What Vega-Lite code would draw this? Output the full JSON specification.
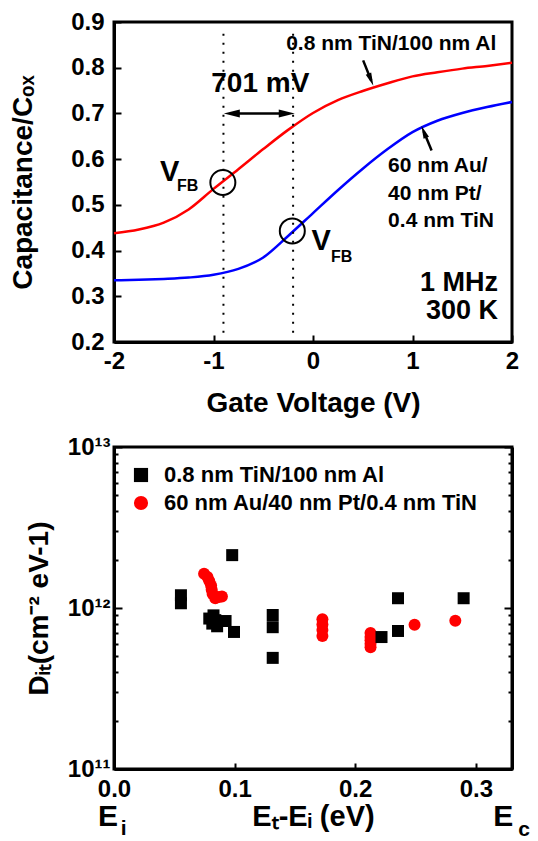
{
  "$schema": "https://vega.github.io/schema/vega-lite/v6.json",
  "padding": {"left": 8, "top": 8, "right": 4, "bottom": 2},
  "background": "white",
  "bounds": "flush",
  "spacing": 105,
  "resolve": {"scale": {"color": "independent", "shape": "independent"}, "legend": {"color": "independent", "shape": "independent"}},
  "datasets": {
    "cv": [
      {"V": -2, "C": 0.438, "s": "al"}, {"V": -1.75, "C": 0.446, "s": "al"}, {"V": -1.5, "C": 0.461, "s": "al"},
      {"V": -1.25, "C": 0.49, "s": "al"}, {"V": -1, "C": 0.535, "s": "al"}, {"V": -0.75, "C": 0.578, "s": "al"},
      {"V": -0.5, "C": 0.622, "s": "al"}, {"V": -0.25, "C": 0.664, "s": "al"}, {"V": 0, "C": 0.701, "s": "al"},
      {"V": 0.25, "C": 0.729, "s": "al"}, {"V": 0.5, "C": 0.749, "s": "al"}, {"V": 0.75, "C": 0.766, "s": "al"},
      {"V": 1, "C": 0.781, "s": "al"}, {"V": 1.25, "C": 0.79, "s": "al"}, {"V": 1.5, "C": 0.798, "s": "al"},
      {"V": 1.75, "C": 0.804, "s": "al"}, {"V": 2, "C": 0.811, "s": "al"},
      {"V": -2, "C": 0.335, "s": "tin"}, {"V": -1.75, "C": 0.336, "s": "tin"}, {"V": -1.5, "C": 0.338, "s": "tin"},
      {"V": -1.25, "C": 0.341, "s": "tin"}, {"V": -1, "C": 0.347, "s": "tin"}, {"V": -0.75, "C": 0.36, "s": "tin"},
      {"V": -0.5, "C": 0.385, "s": "tin"}, {"V": -0.25, "C": 0.432, "s": "tin"}, {"V": 0, "C": 0.482, "s": "tin"},
      {"V": 0.25, "C": 0.532, "s": "tin"}, {"V": 0.5, "C": 0.579, "s": "tin"}, {"V": 0.75, "C": 0.622, "s": "tin"},
      {"V": 1, "C": 0.659, "s": "tin"}, {"V": 1.25, "C": 0.684, "s": "tin"}, {"V": 1.5, "C": 0.701, "s": "tin"},
      {"V": 1.75, "C": 0.714, "s": "tin"}, {"V": 2, "C": 0.725, "s": "tin"}
    ],
    "dit": [
      {"E": 0.0747, "D": 1.63e12, "s": "60 nm Au/40 nm Pt/0.4 nm TiN"},
      {"E": 0.0775, "D": 1.56e12, "s": "60 nm Au/40 nm Pt/0.4 nm TiN"},
      {"E": 0.079, "D": 1.47e12, "s": "60 nm Au/40 nm Pt/0.4 nm TiN"},
      {"E": 0.0805, "D": 1.38e12, "s": "60 nm Au/40 nm Pt/0.4 nm TiN"},
      {"E": 0.081, "D": 1.3e12, "s": "60 nm Au/40 nm Pt/0.4 nm TiN"},
      {"E": 0.0818, "D": 1.22e12, "s": "60 nm Au/40 nm Pt/0.4 nm TiN"},
      {"E": 0.084, "D": 1.15e12, "s": "60 nm Au/40 nm Pt/0.4 nm TiN"},
      {"E": 0.087, "D": 1.17e12, "s": "60 nm Au/40 nm Pt/0.4 nm TiN"},
      {"E": 0.0895, "D": 1.18e12, "s": "60 nm Au/40 nm Pt/0.4 nm TiN"},
      {"E": 0.1728, "D": 8.5e11, "s": "60 nm Au/40 nm Pt/0.4 nm TiN"},
      {"E": 0.1728, "D": 7.9e11, "s": "60 nm Au/40 nm Pt/0.4 nm TiN"},
      {"E": 0.1728, "D": 7.3e11, "s": "60 nm Au/40 nm Pt/0.4 nm TiN"},
      {"E": 0.1728, "D": 6.7e11, "s": "60 nm Au/40 nm Pt/0.4 nm TiN"},
      {"E": 0.2127, "D": 7.0e11, "s": "60 nm Au/40 nm Pt/0.4 nm TiN"},
      {"E": 0.2127, "D": 6.6e11, "s": "60 nm Au/40 nm Pt/0.4 nm TiN"},
      {"E": 0.2127, "D": 6.3e11, "s": "60 nm Au/40 nm Pt/0.4 nm TiN"},
      {"E": 0.2127, "D": 6.0e11, "s": "60 nm Au/40 nm Pt/0.4 nm TiN"},
      {"E": 0.2127, "D": 5.7e11, "s": "60 nm Au/40 nm Pt/0.4 nm TiN"},
      {"E": 0.2492, "D": 7.87e11, "s": "60 nm Au/40 nm Pt/0.4 nm TiN"},
      {"E": 0.283, "D": 8.34e11, "s": "60 nm Au/40 nm Pt/0.4 nm TiN"},
      {"E": 0.0555, "D": 1.2e12, "s": "0.8 nm TiN/100 nm Al"},
      {"E": 0.0555, "D": 1.07e12, "s": "0.8 nm TiN/100 nm Al"},
      {"E": 0.098, "D": 2.13e12, "s": "0.8 nm TiN/100 nm Al"},
      {"E": 0.079, "D": 8.6e11, "s": "0.8 nm TiN/100 nm Al"},
      {"E": 0.0825, "D": 9.0e11, "s": "0.8 nm TiN/100 nm Al"},
      {"E": 0.0815, "D": 8.0e11, "s": "0.8 nm TiN/100 nm Al"},
      {"E": 0.0855, "D": 7.7e11, "s": "0.8 nm TiN/100 nm Al"},
      {"E": 0.084, "D": 8.4e11, "s": "0.8 nm TiN/100 nm Al"},
      {"E": 0.0925, "D": 8.3e11, "s": "0.8 nm TiN/100 nm Al"},
      {"E": 0.0995, "D": 7.1e11, "s": "0.8 nm TiN/100 nm Al"},
      {"E": 0.1316, "D": 9.05e11, "s": "0.8 nm TiN/100 nm Al"},
      {"E": 0.1316, "D": 7.6e11, "s": "0.8 nm TiN/100 nm Al"},
      {"E": 0.1316, "D": 4.9e11, "s": "0.8 nm TiN/100 nm Al"},
      {"E": 0.2218, "D": 6.6e11, "s": "0.8 nm TiN/100 nm Al"},
      {"E": 0.2355, "D": 1.15e12, "s": "0.8 nm TiN/100 nm Al"},
      {"E": 0.2355, "D": 7.2e11, "s": "0.8 nm TiN/100 nm Al"},
      {"E": 0.2899, "D": 1.15e12, "s": "0.8 nm TiN/100 nm Al"}
    ]
  },
  "vconcat": [
    {
      "width": 398,
      "height": 320,
      "layer": [
        {
          "data": {"name": "cv"},
          "mark": {"type": "line", "strokeWidth": 2.5, "interpolate": "monotone"},
          "encoding": {
            "x": {"field": "V", "type": "quantitative", "scale": {"domain": [-2, 2], "nice": false, "zero": false},
              "axis": {"title": "Gate Voltage (V)", "values": [-2, -1, 0, 1, 2], "labelExpr": "datum.value + ''", "tickSize": -7, "labelPadding": 14, "titlePadding": 16}},
            "y": {"field": "C", "type": "quantitative", "scale": {"domain": [0.2, 0.9], "nice": false, "zero": false},
              "axis": {"title": "Capacitance/Cₒₓ", "values": [0.2, 0.3, 0.4, 0.5, 0.6, 0.7, 0.8, 0.9], "format": ".1f", "tickSize": -7, "labelPadding": 17, "titlePadding": 33}},
            "color": {"field": "s", "type": "nominal", "scale": {"domain": ["al", "tin"], "range": ["#ff0000", "#0000ff"]}, "legend": null}
          }
        },
        {
          "data": {"values": [{"V": -0.9}, {"V": -0.2}]},
          "mark": {"type": "rule", "strokeDash": [2, 7], "strokeWidth": 2, "color": "black"},
          "encoding": {
            "x": {"field": "V", "type": "quantitative"},
            "y": {"datum": 0.22, "type": "quantitative"},
            "y2": {"datum": 0.88}
          }
        },
        {
          "data": {"values": [{"V": -0.83, "V2": -0.25, "C": 0.7}]},
          "mark": {"type": "rule", "strokeWidth": 2.5, "color": "black"},
          "encoding": {
            "x": {"field": "V", "type": "quantitative"},
            "x2": {"field": "V2"},
            "y": {"field": "C", "type": "quantitative"}
          }
        },
        {
          "data": {"values": [{"V": -0.816, "C": 0.7}]},
          "mark": {"type": "point", "shape": "M -1 0 L 1 -0.5 L 1 0.5 Z", "size": 256, "filled": true, "color": "black", "opacity": 1},
          "encoding": {
            "x": {"field": "V", "type": "quantitative"},
            "y": {"field": "C", "type": "quantitative"}
          }
        },
        {
          "data": {"values": [{"V": -0.264, "C": 0.7}]},
          "mark": {"type": "point", "shape": "M 1 0 L -1 -0.5 L -1 0.5 Z", "size": 256, "filled": true, "color": "black", "opacity": 1},
          "encoding": {
            "x": {"field": "V", "type": "quantitative"},
            "y": {"field": "C", "type": "quantitative"}
          }
        },
        {
          "data": {"values": [{"V": 0.504, "C": 0.816, "V2": 0.585, "C2": 0.772}, {"V": 1.192, "C": 0.619, "V2": 1.112, "C2": 0.661}]},
          "mark": {"type": "rule", "strokeWidth": 2.5, "color": "black"},
          "encoding": {
            "x": {"field": "V", "type": "quantitative"},
            "x2": {"field": "V2"},
            "y": {"field": "C", "type": "quantitative"},
            "y2": {"field": "C2"}
          }
        },
        {
          "data": {"values": [{"V": 0.582, "C": 0.774}]},
          "mark": {"type": "point", "shape": "M 0 1 L -0.45 -1 L 0.45 -1 Z", "size": 169, "angle": -22, "filled": true, "color": "black", "opacity": 1},
          "encoding": {
            "x": {"field": "V", "type": "quantitative"},
            "y": {"field": "C", "type": "quantitative"}
          }
        },
        {
          "data": {"values": [{"V": 1.114, "C": 0.66}]},
          "mark": {"type": "point", "shape": "M 0 -1 L -0.45 1 L 0.45 1 Z", "size": 169, "angle": -22, "filled": true, "color": "black", "opacity": 1},
          "encoding": {
            "x": {"field": "V", "type": "quantitative"},
            "y": {"field": "C", "type": "quantitative"}
          }
        },
        {
          "data": {"values": [{"V": -0.906, "C": 0.549}, {"V": -0.208, "C": 0.443}]},
          "mark": {"type": "point", "shape": "circle", "size": 625, "filled": false, "strokeWidth": 2, "color": "black", "opacity": 1},
          "encoding": {
            "x": {"field": "V", "type": "quantitative"},
            "y": {"field": "C", "type": "quantitative"}
          }
        },
        {
          "data": {"values": [{"V": -0.53, "C": 0.765, "t": "701 mV"}]},
          "mark": {"type": "text", "fontSize": 28, "align": "center", "baseline": "middle"},
          "encoding": {
            "x": {"field": "V", "type": "quantitative"},
            "y": {"field": "C", "type": "quantitative"},
            "text": {"field": "t"}
          }
        },
        {
          "data": {"values": [{"V": 0.786, "C": 0.852, "t": "0.8 nm TiN/100 nm Al"}]},
          "mark": {"type": "text", "fontSize": 21, "align": "center", "baseline": "middle"},
          "encoding": {
            "x": {"field": "V", "type": "quantitative"},
            "y": {"field": "C", "type": "quantitative"},
            "text": {"field": "t"}
          }
        },
        {
          "data": {"values": [{"V": 0.755, "C": 0.584, "t": "60 nm Au/"}, {"V": 0.755, "C": 0.524, "t": "40 nm Pt/"}, {"V": 0.755, "C": 0.465, "t": "0.4 nm TiN"}]},
          "mark": {"type": "text", "fontSize": 21, "align": "left", "baseline": "middle"},
          "encoding": {
            "x": {"field": "V", "type": "quantitative"},
            "y": {"field": "C", "type": "quantitative"},
            "text": {"field": "t"}
          }
        },
        {
          "data": {"values": [{"V": 1.86, "C": 0.33, "t": "1 MHz"}, {"V": 1.86, "C": 0.268, "t": "300 K"}]},
          "mark": {"type": "text", "fontSize": 27, "align": "right", "baseline": "middle"},
          "encoding": {
            "x": {"field": "V", "type": "quantitative"},
            "y": {"field": "C", "type": "quantitative"},
            "text": {"field": "t"}
          }
        },
        {
          "data": {"values": [{"V": -1.44, "C": 0.571, "t": "V"}, {"V": 0.081, "C": 0.421, "t": "V"}]},
          "mark": {"type": "text", "fontSize": 29, "align": "center", "baseline": "middle"},
          "encoding": {
            "x": {"field": "V", "type": "quantitative"},
            "y": {"field": "C", "type": "quantitative"},
            "text": {"field": "t"}
          }
        },
        {
          "data": {"values": [{"V": -1.26, "C": 0.542, "t": "FB"}, {"V": 0.287, "C": 0.385, "t": "FB"}]},
          "mark": {"type": "text", "fontSize": 16, "align": "center", "baseline": "middle"},
          "encoding": {
            "x": {"field": "V", "type": "quantitative"},
            "y": {"field": "C", "type": "quantitative"},
            "text": {"field": "t"}
          }
        }
      ]
    },
    {
      "width": 398,
      "height": 322,
      "resolve": {"axis": {"y": "independent"}},
      "layer": [
        {
          "layer": [
            {
              "data": {"name": "dit"},
              "mark": {"type": "point", "filled": true, "opacity": 1, "size": 144, "strokeWidth": 0},
              "encoding": {
                "x": {"field": "E", "type": "quantitative", "scale": {"domain": [0, 0.33], "nice": false, "zero": false},
                  "axis": {"title": "Eₜ-Eᵢ (eV)", "values": [0, 0.1, 0.2, 0.3], "format": ".1f", "tickSize": -6, "labelPadding": 14, "titlePadding": 1, "titleFontSize": 29}},
                "y": {"field": "D", "type": "quantitative", "scale": {"type": "log", "domain": [1e11, 1e13], "nice": false},
                  "axis": {"title": "Dᵢₜ(cm⁻² eV-1)", "values": [1e11, 2e11, 3e11, 4e11, 5e11, 6e11, 7e11, 8e11, 9e11, 1e12, 2e12, 3e12, 4e12, 5e12, 6e12, 7e12, 8e12, 9e12, 1e13],
                    "labelExpr": "datum.value == 1e11 ? '10¹¹' : datum.value == 1e12 ? '10¹²' : datum.value == 1e13 ? '10¹³' : ''",
                    "tickSize": {"condition": {"test": "datum.value == 1e11 || datum.value == 1e12 || datum.value == 1e13", "value": -8}, "value": -4},
                    "labelPadding": 12, "titlePadding": 14}},
                "color": {"field": "s", "type": "nominal",
                  "scale": {"domain": ["0.8 nm TiN/100 nm Al", "60 nm Au/40 nm Pt/0.4 nm TiN"], "range": ["#000000", "#ff0000"]},
                  "legend": {"orient": "none", "legendX": 16, "legendY": 17, "title": null, "labelFontSize": 22, "labelFontWeight": "bold", "symbolSize": 200, "rowPadding": 6, "labelOffset": 12, "padding": 0, "labelLimit": 500, "symbolStrokeWidth": 0}},
                "shape": {"field": "s", "type": "nominal",
                  "scale": {"domain": ["0.8 nm TiN/100 nm Al", "60 nm Au/40 nm Pt/0.4 nm TiN"], "range": ["square", "circle"]},
                  "legend": {"orient": "none", "legendX": 16, "legendY": 17, "title": null, "labelFontSize": 22, "labelFontWeight": "bold", "symbolSize": 200, "rowPadding": 6, "labelOffset": 12, "padding": 0, "labelLimit": 500, "symbolStrokeWidth": 0}}
              }
            },
            {
              "data": {"values": [{"E": -0.005, "D": 5.0e10, "t": "E"}, {"E": 0.3228, "D": 5.0e10, "t": "E"}]},
              "mark": {"type": "text", "fontSize": 30, "align": "center", "baseline": "middle"},
              "encoding": {
                "x": {"field": "E", "type": "quantitative"},
                "y": {"field": "D", "type": "quantitative"},
                "text": {"field": "t"}
              }
            },
            {
              "data": {"values": [{"E": 0.008, "D": 4.25e10, "t": "i"}, {"E": 0.34, "D": 4.15e10, "t": "c"}]},
              "mark": {"type": "text", "fontSize": 21, "align": "center", "baseline": "middle"},
              "encoding": {
                "x": {"field": "E", "type": "quantitative"},
                "y": {"field": "D", "type": "quantitative"},
                "text": {"field": "t"}
              }
            }
          ]
        },
        {
          "data": {"name": "dit"},
          "mark": {"type": "point", "opacity": 0},
          "encoding": {
            "x": {"field": "E", "type": "quantitative"},
            "y": {"field": "D", "type": "quantitative",
              "axis": {"orient": "right", "title": null, "labels": false,
                "values": [1e11, 2e11, 3e11, 4e11, 5e11, 6e11, 7e11, 8e11, 9e11, 1e12, 2e12, 3e12, 4e12, 5e12, 6e12, 7e12, 8e12, 9e12, 1e13],
                "tickSize": {"condition": {"test": "datum.value == 1e11 || datum.value == 1e12 || datum.value == 1e13", "value": -8}, "value": -4}}}
          }
        }
      ]
    }
  ],
  "config": {
    "font": "Liberation Sans",
    "view": {"stroke": "black", "strokeWidth": 3},
    "axis": {
      "grid": false, "domainColor": "black", "domainWidth": 3, "tickColor": "black", "tickWidth": 2,
      "labelFont": "Liberation Sans", "labelFontWeight": "bold", "labelFontSize": 24, "labelColor": "black",
      "labelFlush": false, "labelOverlap": false,
      "titleFont": "Liberation Sans", "titleFontWeight": "bold", "titleFontSize": 28, "titleColor": "black"
    },
    "legend": {"labelFont": "Liberation Sans", "labelColor": "black"},
    "text": {"font": "Liberation Sans", "fontWeight": "bold", "color": "black"}
  }
}
